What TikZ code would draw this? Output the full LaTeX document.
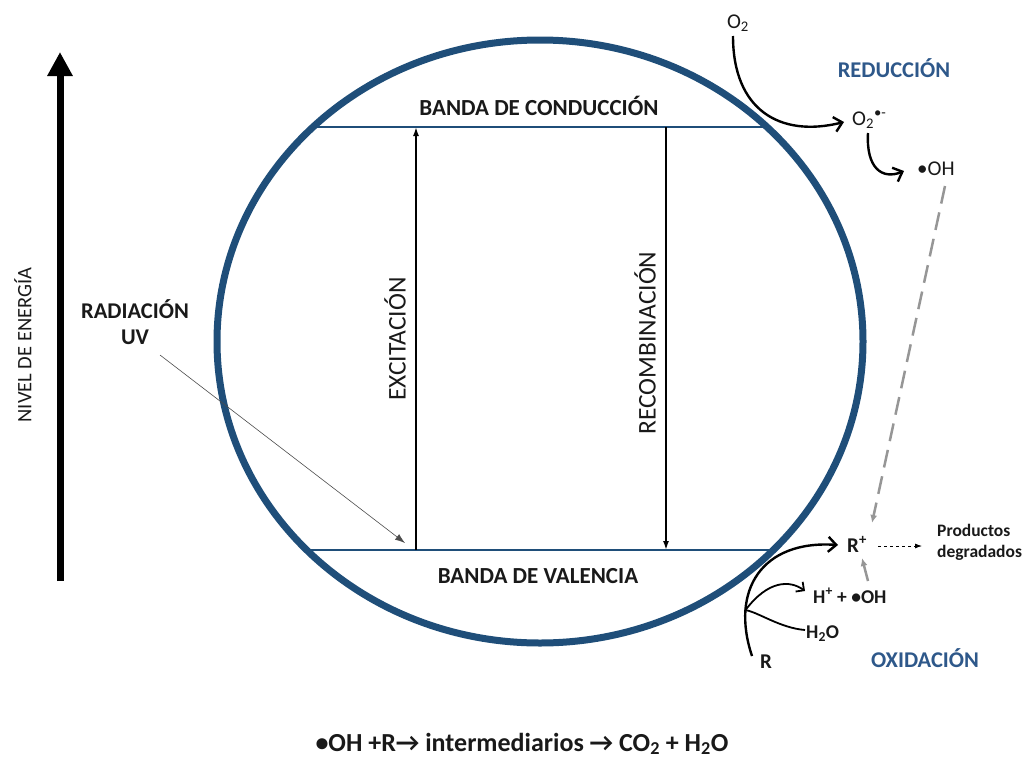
\documentclass[tikz,border=0pt]{standalone}
\usepackage{fontspec}
\setmainfont{Carlito}
\usetikzlibrary{arrows.meta}
\definecolor{bandblue}{RGB}{31,78,121}
\definecolor{lblue}{RGB}{46,88,138}
\definecolor{dgray}{RGB}{150,150,150}
\definecolor{txt}{RGB}{25,25,25}
\tikzset{
  bigarrow/.style={line width=7pt,-{Triangle[length=24pt,width=24pt]}},
  bandline/.style={bandblue,line width=2.5pt},
  transarrow/.style={line width=1.6pt,-{Latex[length=9pt,width=6pt]}},
  curvarrow/.style={line width=2.4pt,-{Straight Barb[length=8pt,width=15pt]}},
  thinarrow/.style={line width=0.6pt,black!70,-{Latex[length=10pt,width=7pt]}},
  grayarrow/.style={dgray,line width=2.5pt,-{Latex[length=8pt,width=7pt]}},
  bandtxt/.style={font=\fontsize{23}{26}\selectfont\bfseries,text=txt,inner sep=0pt},
  vtxt/.style={font=\fontsize{25.5}{28}\selectfont,text=txt,inner sep=0pt,rotate=90},
  lbl/.style={font=\fontsize{21}{24}\selectfont,text=txt,inner sep=0pt},
  blbl/.style={font=\fontsize{19.5}{22}\selectfont\bfseries,text=txt,inner sep=0pt},
  bluelbl/.style={font=\fontsize{22.5}{25}\selectfont\bfseries,text=lblue,inner sep=0pt},
  smalllbl/.style={font=\fontsize{17.5}{20}\selectfont\bfseries,text=txt,inner sep=0pt,align=left}
}
\begin{document}
\begin{tikzpicture}[x=1pt,y=-1pt]
\useasboundingbox (0,0) rectangle (1023,758);
% particle
\draw[bandblue,line width=7pt] (540,341.5) ellipse [x radius=323, y radius=301.5];
% bands
\coordinate (cbL) at (313,127);
\coordinate (cbR) at (767,127);
\coordinate (vbL) at (307,550);
\coordinate (vbR) at (773,550);
\draw[bandline] (cbL) -- (cbR);
\draw[bandline] (vbL) -- (vbR);
\node[bandtxt,anchor=base] (cb) at (539,115) {BANDA DE CONDUCCIÓN};
\node[bandtxt,anchor=base] (vb) at (538,583) {BANDA DE VALENCIA};
% transitions
\coordinate (exB) at (416,550);
\coordinate (exT) at (416,127);
\coordinate (reT) at (666,127);
\coordinate (reB) at (666,550);
\draw[transarrow] (exB) -- (exT);
\draw[transarrow] (reT) -- (reB);
\node[vtxt] (ex) at (395,339) {EXCITACIÓN};
\node[vtxt] (re) at (645,343) {RECOMBINACIÓN};
% energy axis
\coordinate (enB) at (60,581);
\coordinate (enT) at (60,52);
\draw[bigarrow] (enB) -- (enT);
\node[vtxt,font=\fontsize{20.5}{22}\selectfont] (en) at (23,345) {NIVEL DE ENERGÍA};
% UV radiation
\node[blbl,font=\fontsize{22.5}{25}\selectfont\bfseries,anchor=base] (rad) at (135,318) {RADIACIÓN};
\node[blbl,font=\fontsize{22.5}{25}\selectfont\bfseries,anchor=base] (uv) at (135,344) {UV};
\coordinate (uvEnd) at (405,543);
\draw[thinarrow] (160,355) -- (uvEnd);
% reduction
\node[lbl,anchor=base] (o2) at (738,28) {O\textsubscript{2}};
\node[lbl,anchor=base west] (o2r) at (852,125) {O\textsubscript{2}\textsuperscript{•-}};
\node[lbl,anchor=base west] (oh) at (917,175) {•OH};
\node[bluelbl,anchor=base] (red) at (894,77) {REDUCCIÓN};
\draw[curvarrow] (733,36) .. controls (733,110) and (780,138) .. (844,122);
\draw[curvarrow] (868,133) .. controls (866,168) and (882,180) .. (904,171);
% oxidation
\node[blbl,font=\fontsize{21}{24}\selectfont\bfseries,anchor=base west] (rp) at (847,552) {R\textsuperscript{+}};
\node[smalllbl,anchor=base west] (prod) at (937,536) {Productos};
\node[smalllbl,anchor=base west] (degr) at (937,557) {degradados};
\node[blbl,anchor=base west] (hoh) at (813,603) {H\textsuperscript{+} + •OH};
\node[blbl,anchor=base west] (h2o) at (806,638) {H\textsubscript{2}O};
\node[blbl,font=\fontsize{21}{24}\selectfont\bfseries,anchor=base west] (r) at (760,668) {R};
\node[bluelbl,anchor=base west] (ox) at (871,667) {OXIDACIÓN};
\draw[curvarrow] (752,656) .. controls (730,590) and (762,540) .. coordinate[pos=0.25] (br) (838,545);
\draw[line width=1.8pt,-{Straight Barb[length=6pt,width=12pt]}] (br) .. controls (768,580) and (790,580) .. (805,591);
\draw[line width=1.8pt] (br) .. controls (758,612) and (780,628) .. (805,630);
\draw[dashed,line width=0.8pt,-{Latex[length=7pt,width=5pt]}] (878,546) -- (922,546);
\draw[grayarrow,dash pattern=on 18pt off 9pt] (945,186) -- (872,523);
\draw[grayarrow] (868,581) -- (862,558);
% overall reaction
\node[font=\fontsize{26}{30}\selectfont\bfseries,text=txt,inner sep=0pt,anchor=base] (eq) at (522,751)
  {•OH +R→ intermediarios → CO\textsubscript{2} + H\textsubscript{2}O};
\end{tikzpicture}
\end{document}
